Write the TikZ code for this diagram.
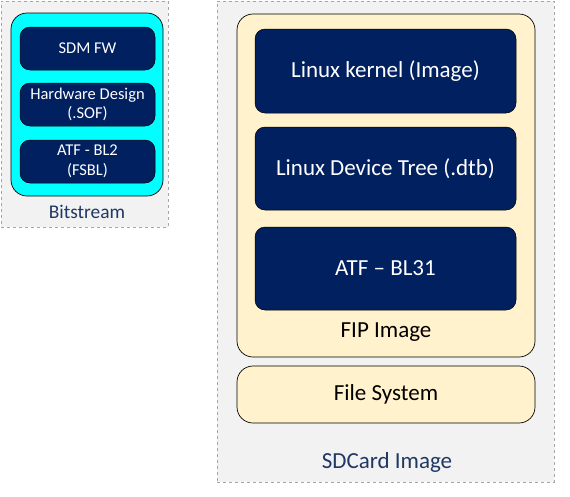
\documentclass[tikz,border=0pt]{standalone}
\usepackage{fontspec}
\setmainfont{Carlito}
\definecolor{navy}{HTML}{002060}
\definecolor{cream}{HTML}{FFF2CC}
\definecolor{panel}{HTML}{F2F2F2}
\definecolor{labelblue}{HTML}{1F3864}
\definecolor{dashgray}{HTML}{A6A6A6}
\definecolor{aqua}{HTML}{00FFFF}
\begin{document}
\begin{tikzpicture}[x=1pt,y=-1pt,
  panelbox/.style={draw=dashgray,dashed,fill=panel,line width=0.6pt,inner sep=0pt},
  darkbox/.style={draw=black,fill=navy,rounded corners=10pt,line width=0.5pt,inner sep=0pt,text=white,align=center},
  creambox/.style={draw=black,fill=cream,rounded corners=16pt,line width=0.7pt,inner sep=0pt},
  cyanbox/.style={draw=black,fill=aqua,rounded corners=16pt,line width=0.7pt,inner sep=0pt},
  bigtxt/.style={font=\fontsize{23}{27}\selectfont},
  smalltxt/.style={font=\fontsize{16.5}{19.5}\selectfont}]
\useasboundingbox (0,0) rectangle (570,496);
% left panel
\node[panelbox,minimum width=167pt,minimum height=226pt] (lp) at (84.5,114) {};
\node[cyanbox,minimum width=152pt,minimum height=183pt] (cy) at (87,104.5) {};
\node[darkbox,smalltxt,minimum width=135pt,minimum height=43pt] (sdm) at (87.5,48.5) {SDM FW};
\node[darkbox,smalltxt,minimum width=135pt,minimum height=43pt] (hw) at (87.5,104.5) {Hardware Design\\(.SOF)};
\node[darkbox,smalltxt,minimum width=135pt,minimum height=43pt] (atf2) at (87.5,161.5) {ATF - BL2\\(FSBL)};
\node[text=labelblue,font=\fontsize{19.4}{22}\selectfont] (bit) at (87,212) {Bitstream};
% right panel
\node[panelbox,minimum width=337pt,minimum height=481pt] (rp) at (385.5,241.5) {};
\node[creambox,minimum width=298pt,minimum height=343pt] (fip) at (386,185.5) {};
\node[darkbox,bigtxt,minimum width=261pt,minimum height=84pt] (kern) at (385.5,71) {Linux kernel (Image)};
\node[darkbox,bigtxt,minimum width=261pt,minimum height=83pt] (dtb) at (385.5,168.5) {Linux Device Tree (.dtb)};
\node[darkbox,bigtxt,minimum width=261pt,minimum height=83pt] (bl31) at (385.5,268.5) {ATF – BL31};
\node[bigtxt] (fiplab) at (386,332) {FIP Image};
\node[creambox,bigtxt,minimum width=298pt,minimum height=57pt] (fs) at (386,394.5) {File System};
\node[bigtxt,text=labelblue] (sd) at (387,462) {SDCard Image};
\end{tikzpicture}
\end{document}
